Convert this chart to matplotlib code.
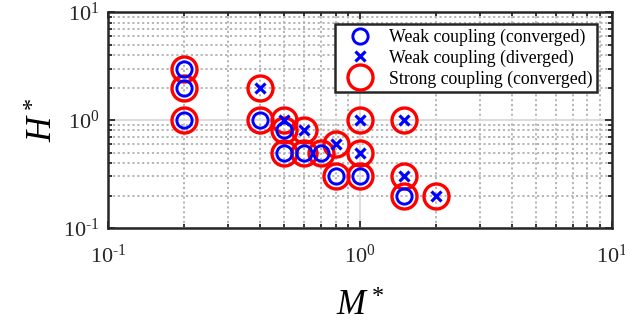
import numpy as np
import matplotlib
matplotlib.use("Agg")
import matplotlib.pyplot as plt
from matplotlib.ticker import LogLocator, NullFormatter, FuncFormatter

plt.rcParams['font.family'] = ['Liberation Serif', 'DejaVu Serif']
plt.rcParams['mathtext.fontset'] = 'custom'
plt.rcParams['mathtext.rm'] = 'Liberation Serif'
plt.rcParams['mathtext.it'] = 'Liberation Serif:italic'

# strong coupling, all converged
strong_M = [0.2, 0.2, 0.2, 0.4, 0.4, 0.5, 0.5, 0.5, 0.6, 0.6, 0.7, 0.8, 0.8, 1.0, 1.0, 1.0, 1.5, 1.5, 1.5, 2.0]
strong_H = [3.0, 2.0, 1.0, 2.0, 1.0, 1.0, 0.8, 0.5, 0.8, 0.5, 0.5, 0.6, 0.3, 1.0, 0.5, 0.3, 1.0, 0.3, 0.2, 0.2]

# weak coupling converged
wc_M = [0.2, 0.2, 0.2, 0.4, 0.5, 0.5, 0.6, 0.7, 0.8, 1.0, 1.5]
wc_H = [3.0, 2.0, 1.0, 1.0, 0.8, 0.5, 0.5, 0.5, 0.3, 0.3, 0.2]

# weak coupling diverged
wd_M = [0.4, 0.5, 0.6, 0.8, 1.0, 1.0, 1.5, 1.5, 2.0]
wd_H = [2.0, 1.0, 0.8, 0.6, 1.0, 0.5, 1.0, 0.3, 0.2]


def pow10(v, pos):
    e = int(round(np.log10(v)))
    ex = str(e).replace('-', r'\text{-}')
    return r'$10^{' + ex + '}$'


fig = plt.figure(figsize=(6.25, 3.26), dpi=100)
ax = fig.add_axes([0.1728, 0.3006, 0.8062, 0.6624])

s, = ax.plot(strong_M, strong_H, 'o', ls='none', mfc='none', mec='red', ms=18, mew=2.4,
             label='Strong coupling (converged)', zorder=3)
c, = ax.plot(wc_M, wc_H, 'o', ls='none', mfc='none', mec='blue', ms=11, mew=2.1,
             label='Weak coupling (converged)', zorder=4)
d, = ax.plot(wd_M, wd_H, 'x', ls='none', color='blue', ms=7.5, mew=2.3,
             label='Weak coupling (diverged)', zorder=4)

ax.set_xscale('log')
ax.set_yscale('log')
ax.set_xlim(0.1, 10)
ax.set_ylim(0.1, 10)

ax.xaxis.set_minor_locator(LogLocator(base=10, subs=np.arange(2, 10)))
ax.yaxis.set_minor_locator(LogLocator(base=10, subs=np.arange(2, 10)))
ax.xaxis.set_minor_formatter(NullFormatter())
ax.yaxis.set_minor_formatter(NullFormatter())
ax.xaxis.set_major_formatter(FuncFormatter(pow10))
ax.yaxis.set_major_formatter(FuncFormatter(pow10))

ax.grid(True, which='major', color='#d9d9d9', lw=1.3, ls='-')
ax.grid(True, which='minor', color='#b0b0b0', lw=1.3, ls=(0, (1.2, 1.5)))
ax.set_axisbelow(True)

ax.tick_params(which='both', direction='in', top=True, right=True, width=1.3, colors='#262626')
ax.tick_params(which='major', length=5, labelsize=16)
ax.tick_params(axis='x', which='major', pad=12)
ax.tick_params(axis='y', which='major', pad=6)
ax.tick_params(which='minor', length=3)
for sp in ax.spines.values():
    sp.set_linewidth(1.8)
    sp.set_color('#262626')

ax.set_xlabel('$M^*$', fontsize=25, labelpad=16)
ax.set_ylabel('$H^*$', fontsize=25, labelpad=2)

leg = ax.legend(handles=[c, d, s], loc='upper right', fontsize=12.8, frameon=True,
                fancybox=False, edgecolor='#262626', framealpha=1, borderpad=0.25,
                handletextpad=0.4, labelspacing=0.2, handlelength=2.4,
                borderaxespad=0, bbox_to_anchor=(0.970, 0.944))
leg.get_frame().set_linewidth(1.8)

fig.savefig('out.png', dpi=100)
